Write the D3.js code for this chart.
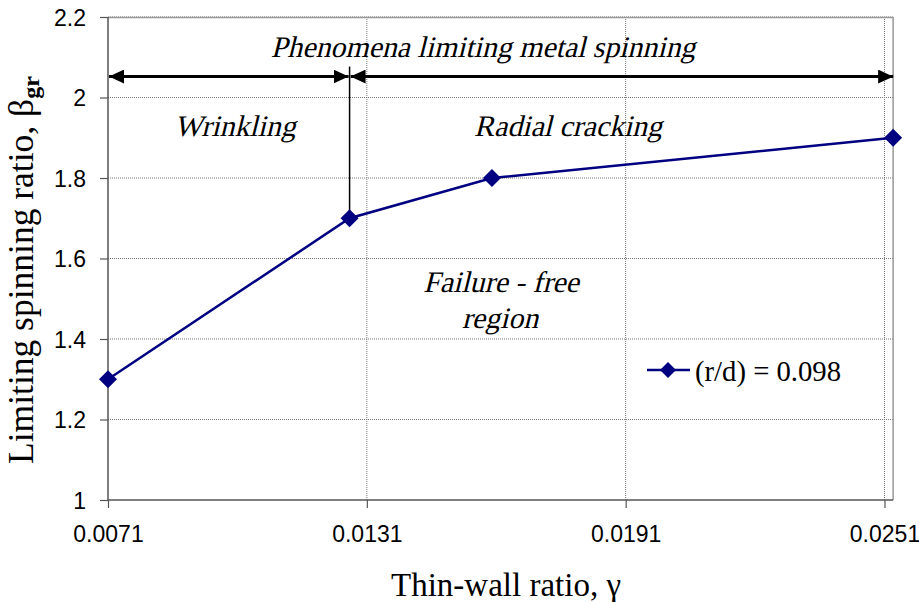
<!DOCTYPE html>
<html><head><meta charset="utf-8">
<script src="https://cdn.jsdelivr.net/npm/d3@7"></script>
<style>body{margin:0;background:#fff}svg{display:block}</style>
</head><body><svg id="c" width="919" height="602"></svg>
<script>
const xValues = [0.0071, 0.0127, 0.0160, 0.0253];
const yValues = [1.3, 1.7, 1.8, 1.9];
const xTicks = [0.0071, 0.0131, 0.0191, 0.0251];
const xTickLabels = ["0.0071", "0.0131", "0.0191", "0.0251"];
const yTicks = [1, 1.2, 1.4, 1.6, 1.8, 2, 2.2];
const yTickLabels = ["1", "1.2", "1.4", "1.6", "1.8", "2", "2.2"];
const seriesName = "(r/d) = 0.098";
const boundaryX = 0.0127, arrowY = 2.052;

const SERIF = "'Liberation Serif', 'Times New Roman', serif";
const SANS = "'Liberation Sans', Arial, sans-serif";
const svg = d3.select("#c");
const L = 108, T = 17, B = 500;
const x = d3.scaleLinear().domain([0.0071, 0.0251]).range([L, 884.5]);
const R = x(0.0253);
const y = d3.scaleLinear().domain([1, 2.2]).range([B, T]);

const defs = svg.append("defs");
defs.append("marker").attr("id","ah").attr("viewBox","0 0 10 10").attr("refX",10).attr("refY",5)
  .attr("markerWidth",15).attr("markerHeight",14).attr("markerUnits","userSpaceOnUse").attr("orient","auto-start-reverse")
  .attr("preserveAspectRatio","none")
  .append("path").attr("d","M0,0L10,5L0,10z").attr("fill","#000");

// gridlines
const g = svg.append("g");
g.selectAll("line.hy").data(yTicks.slice(1)).join("line")
  .attr("x1",L).attr("x2",R).attr("y1",d=>y(d)).attr("y2",d=>y(d))
  .attr("stroke","#777").attr("stroke-width",1).attr("stroke-dasharray","1,1");
g.selectAll("line.vx").data(xTicks.slice(1)).join("line")
  .attr("x1",d=>x(d)).attr("x2",d=>x(d)).attr("y1",T).attr("y2",B)
  .attr("stroke","#777").attr("stroke-width",1).attr("stroke-dasharray","1,1");
// border top/right
svg.append("line").attr("x1",L).attr("x2",R).attr("y1",T+0.5).attr("y2",T+0.5).attr("stroke","#999").attr("stroke-width",1.5);
svg.append("line").attr("x1",R).attr("x2",R).attr("y1",T).attr("y2",B).attr("stroke","#999").attr("stroke-width",1.5);

// axes
const ya = svg.append("g").attr("transform",`translate(${L},0)`)
  .call(d3.axisLeft(y).tickValues(yTicks).tickFormat((d,i)=>yTickLabels[i]).tickSize(8).tickPadding(14));
const xa = svg.append("g").attr("transform",`translate(0,${B})`)
  .call(d3.axisBottom(x).tickValues(xTicks).tickFormat((d,i)=>xTickLabels[i]).tickSize(8));
[ya,xa].forEach(a=>{
  a.attr("font-family",SANS).attr("font-size",23);
  a.select(".domain").remove();
  a.selectAll("line").attr("stroke","#555").attr("stroke-width",1.2);
  a.selectAll("text").attr("fill","#000");
});
ya.selectAll("text").attr("dy","0.35em");
xa.selectAll("text").attr("y",42).attr("dy",0);
svg.append("line").attr("x1",L).attr("x2",L).attr("y1",T).attr("y2",B).attr("stroke","#555").attr("stroke-width",1.5);
svg.append("line").attr("x1",L).attr("x2",R).attr("y1",B).attr("y2",B).attr("stroke","#555").attr("stroke-width",1.5);

// arrows and boundary
const bx = x(boundaryX), ay = y(arrowY);
svg.append("line").attr("x1",bx).attr("x2",bx).attr("y1",ay-10).attr("y2",y(yValues[1]))
  .attr("stroke","#000").attr("stroke-width",1.5);
svg.append("line").attr("x1",L+1).attr("x2",bx-1).attr("y1",ay).attr("y2",ay)
  .attr("stroke","#000").attr("stroke-width",3).attr("marker-start","url(#ah)").attr("marker-end","url(#ah)");
svg.append("line").attr("x1",bx+1).attr("x2",R).attr("y1",ay).attr("y2",ay)
  .attr("stroke","#000").attr("stroke-width",3).attr("marker-start","url(#ah)").attr("marker-end","url(#ah)");

// series
const pts = xValues.map((v,i)=>[v,yValues[i]]);
svg.append("path").datum(pts).attr("fill","none").attr("stroke","#000080").attr("stroke-width",2.5)
  .attr("d",d3.line().x(d=>x(d[0])).y(d=>y(d[1])));
const dia = "M0,-9L9,0L0,9L-9,0Z";
svg.selectAll("path.pt").data(pts).join("path").attr("class","pt")
  .attr("transform",d=>`translate(${x(d[0])},${y(d[1])})`).attr("d",dia).attr("fill","#000080");

// annotations (serif, slanted)
const ital = (t,cx,cy)=>svg.append("text").attr("transform",`translate(${cx},${cy}) skewX(-14)`)
  .attr("text-anchor","middle").attr("font-family",SERIF)
  .attr("font-size",29.8).attr("fill","#000").text(t);
ital("Phenomena limiting metal spinning",483,57);
ital("Wrinkling",235,136);
ital("Radial cracking",568,136);
ital("Failure - free",501,292);
ital("region",500,328);

// legend
svg.append("line").attr("x1",647).attr("x2",690).attr("y1",370).attr("y2",370).attr("stroke","#000080").attr("stroke-width",2.5);
svg.append("path").attr("transform","translate(668,370)").attr("d","M0,-8L8,0L0,8L-8,0Z").attr("fill","#000080");
svg.append("text").attr("x",695).attr("y",381).attr("font-family",SERIF)
  .attr("font-size",28.7).attr("fill","#000").text(seriesName);

// axis titles
svg.append("text").attr("x",506).attr("y",596).attr("text-anchor","middle")
  .attr("font-family",SERIF).attr("font-size",33).attr("fill","#000")
  .text("Thin-wall ratio, γ");
const yt = svg.append("text").attr("transform","translate(33,464) rotate(-90)").attr("text-anchor","start")
  .attr("font-family",SERIF).attr("font-size",35.5).attr("fill","#000");
yt.append("tspan").text("Limiting spinning ratio, β");
yt.append("tspan").attr("dy",6).attr("font-size",24).attr("font-weight","bold").text("gr");
</script></body></html>
